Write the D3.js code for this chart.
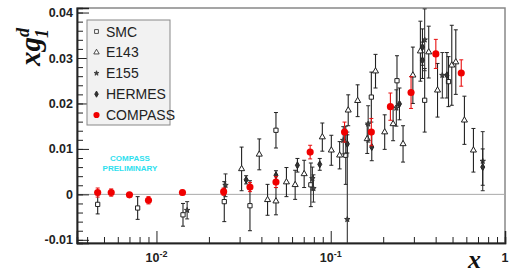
<!DOCTYPE html>
<html>
<head>
<meta charset="utf-8">
<script src="https://cdn.jsdelivr.net/npm/d3@7"></script>
<style>
  body { margin: 0; background: #fff; }
  svg { display: block; font-family: "Liberation Sans", Arial, sans-serif; }
</style>
</head>
<body>
<svg id="chart" width="509" height="273"></svg>
<script>
// data: x, value, stat error
var smcX   = [0.0046, 0.0078, 0.0142, 0.0245, 0.0344, 0.0485, 0.0769, 0.122, 0.171, 0.240, 0.346, 0.474]
var smcY   = [-0.0022, -0.0030, -0.0045, -0.0016, -0.0025, 0.0141, 0.0021, 0.0086, 0.0214, 0.0250, 0.0207, 0.0248]
var smcErr = [0.0021, 0.0025, 0.0025, 0.0044, 0.0055, 0.0039, 0.0048, 0.0064, 0.0055, 0.0055, 0.0070, 0.0055]

var e143X   = [0.0308, 0.0389, 0.0434, 0.0485, 0.0557, 0.0625, 0.0704, 0.0895, 0.1008, 0.1125, 0.126, 0.1427,
               0.162, 0.1807, 0.204, 0.228, 0.26, 0.296, 0.327, 0.365, 0.41, 0.495, 0.522, 0.585, 0.659]
var e143Y   = [0.0056, 0.0088, -0.0012, -0.0015, 0.0027, 0.0021, 0.0045, 0.0126, 0.0097, 0.0086, 0.0185, 0.0206,
               0.0122, 0.0271, 0.0137, 0.0155, 0.0111, 0.0262, 0.0315, 0.0313, 0.0229, 0.0284, 0.0291, 0.0163, 0.0097]
var e143Err = [0.0048, 0.0034, 0.0034, 0.0030, 0.0032, 0.0032, 0.0030, 0.0031, 0.0033, 0.0030, 0.0034, 0.0035,
               0.0032, 0.0037, 0.0038, 0.0037, 0.0040, 0.0062, 0.0066, 0.0057, 0.0059, 0.0088, 0.0071, 0.0053, 0.0048]

var e155X   = [0.0150, 0.0249, 0.0785, 0.0796, 0.118, 0.1245, 0.164, 0.238, 0.346, 0.437, 0.745]
var e155Y   = [-0.0035, 0.0020, 0.0035, 0.0013, 0.0119, -0.0055, 0.0155, 0.0190, 0.0340, 0.0262, 0.0073]
var e155Err = [0.0019, 0.0025, 0.0025, 0.0030, 0.0030, 0.0192, 0.0040, 0.0040, 0.0068, 0.0050, 0.0065]

var hermesX   = [0.0327, 0.0485, 0.0644, 0.0865, 0.1245, 0.172, 0.248, 0.336, 0.336, 0.464, 0.745]
var hermesY   = [0.0032, 0.0042, 0.0064, 0.0066, 0.0111, 0.0104, 0.0199, 0.0324, 0.0295, 0.0262, 0.0060]
var hermesErr = [0.0009, 0.0010, 0.0015, 0.0013, 0.0020, 0.0030, 0.0035, 0.0040, 0.0040, 0.0050, 0.0040]

var compassX   = [0.0046, 0.0055, 0.0070, 0.0090, 0.0141, 0.0243, 0.0344, 0.0485, 0.0762, 0.120, 0.171, 0.220, 0.289, 0.401, 0.561]
var compassY   = [0.0004, 0.0004, -0.0001, -0.0013, 0.0004, 0.0006, 0.0016, 0.0027, 0.0093, 0.0137, 0.0137, 0.0193, 0.0224, 0.0309, 0.0267]
var compassErr = [0.0010, 0.0008, 0.0005, 0.0008, 0.0005, 0.0008, 0.0010, 0.0012, 0.0015, 0.0022, 0.0030, 0.0030, 0.0035, 0.0032, 0.0029]

var yTicks = [-0.01, 0, 0.01, 0.02, 0.03, 0.04]
var yTickLabels = ["-0.01", "0", "0.01", "0.02", "0.03", "0.04"]
var xTicks = [0.01, 0.1, 1]
var xTickExp = ["-2", "-1", ""]
var legendNames = ["SMC", "E143", "E155", "HERMES", "COMPASS"]

// frame
var frame = {left: 77, right: 505, top: 8, bottom: 243}

var x = d3.scaleLog().domain([0.0035, 1]).range([frame.left, frame.right])
var y = d3.scaleLinear().domain([-0.0107, 0.041]).range([frame.bottom, frame.top])

var svg = d3.select("#chart")

svg.append("defs").append("clipPath").attr("id", "clip")
  .append("rect")
  .attr("x", frame.left).attr("y", frame.top)
  .attr("width", frame.right - frame.left).attr("height", frame.bottom - frame.top)

// frame box (top / right in gray)
svg.append("rect")
  .attr("x", frame.left).attr("y", frame.top)
  .attr("width", frame.right - frame.left).attr("height", frame.bottom - frame.top)
  .style("fill", "none").style("stroke", "#888").style("stroke-width", 1.5)

// zero line
svg.append("line")
  .attr("x1", frame.left).attr("x2", frame.right)
  .attr("y1", y(0)).attr("y2", y(0))
  .style("stroke", "#aaa").style("stroke-width", 1)

// y axis, ticks pointing inwards
var yMinor = d3.range(-0.01, 0.0401, 0.002)
var yAxis = d3.axisLeft(y).tickValues(yMinor).tickSize(-6).tickFormat("")
svg.append("g").attr("transform", "translate(" + frame.left + ",0)").call(yAxis)
var yAxisMajor = d3.axisLeft(y).tickValues(yTicks).tickSize(-12)
  .tickFormat(function(d, i) { return yTickLabels[i] }).tickPadding(5)
var gy = svg.append("g").attr("transform", "translate(" + frame.left + ",0)").call(yAxisMajor)
gy.selectAll("text").style("font-size", "12.5px").style("font-weight", "bold").style("fill", "#222")
  .attr("x", -4)

// x axis, log ticks pointing inwards
var xMinor = []
;[0.001, 0.01, 0.1].forEach(function(dec) {
  for (var k = 2; k <= 9; k++) {
    var v = dec * k
    if (v > x.domain()[0] && v < 1) xMinor.push(v)
  }
})
var xAxis = d3.axisBottom(x).tickValues(xMinor).tickSize(-6).tickFormat("")
svg.append("g").attr("transform", "translate(0," + frame.bottom + ")").call(xAxis)
var xAxisMajor = d3.axisBottom(x).tickValues(xTicks).tickSize(-12).tickFormat("")
svg.append("g").attr("transform", "translate(0," + frame.bottom + ")").call(xAxisMajor)
svg.selectAll(".domain").style("stroke", "#222").style("stroke-width", 1.5)
svg.selectAll(".tick line").style("stroke", "#222").style("stroke-width", 1)

var xLab = svg.append("g").selectAll("text")
  .data(xTicks).enter()
  .append("text")
  .attr("x", function(d) { return x(d) })
  .attr("y", 262)
  .attr("text-anchor", "middle")
  .style("font-size", "12.5px").style("font-weight", "bold").style("fill", "#222")
xLab.append("tspan").text(function(d) { return d === 1 ? "1" : "10" })
xLab.append("tspan")
  .attr("dy", -5).style("font-size", "9px")
  .text(function(d, i) { return xTickExp[i] })

// axis titles
var yt = svg.append("text")
  .attr("transform", "translate(40,66) rotate(-90)")
  .style("font-family", "'Liberation Serif', 'DejaVu Serif', serif")
  .style("font-style", "italic").style("font-weight", "bold")
  .style("font-size", "29px").style("fill", "#111")
yt.append("tspan").text("xg")
yt.append("tspan").attr("dy", -11).style("font-size", "18px").text("d")
yt.append("tspan").attr("dx", -10).attr("dy", 19).style("font-size", "18px").text("1")

svg.append("text")
  .attr("x", 468).attr("y", 268)
  .style("font-family", "'Liberation Serif', 'DejaVu Serif', serif")
  .style("font-style", "italic").style("font-weight", "bold")
  .style("font-size", "26px").style("fill", "#111")
  .text("x")

// preliminary label
svg.append("text").attr("x", 130).attr("y", 161).attr("text-anchor", "middle")
  .style("font-size", "8px").style("font-weight", "bold").style("fill", "#2ee0ee")
  .text("COMPASS")
svg.append("text").attr("x", 130).attr("y", 171).attr("text-anchor", "middle")
  .style("font-size", "8px").style("font-weight", "bold").style("fill", "#2ee0ee")
  .text("PRELIMINARY")

// data
var plot = svg.append("g").attr("clip-path", "url(#clip)")

function makeRows(xs, ys, es) {
  return xs.map(function(v, i) { return {x: v, y: ys[i], e: es[i]} })
}

var sets = [
  {name: "SMC", rows: makeRows(smcX, smcY, smcErr), color: "#222",
   sym: d3.symbolSquare, size: 18, fill: "#fff"},
  {name: "E143", rows: makeRows(e143X, e143Y, e143Err), color: "#222",
   sym: d3.symbolTriangle, size: 16, fill: "#fff"},
  {name: "E155", rows: makeRows(e155X, e155Y, e155Err), color: "#333",
   sym: d3.symbolStar, size: 9, fill: "#444"},
  {name: "HERMES", rows: makeRows(hermesX, hermesY, hermesErr), color: "#222",
   sym: d3.symbolDiamond, size: 14, fill: "#333"},
  {name: "COMPASS", rows: makeRows(compassX, compassY, compassErr), color: "#e81010",
   sym: d3.symbolCircle, size: 40, fill: "#f00000"}
]

sets.forEach(function(s) {
  var g = plot.append("g")
  var bars = g.selectAll(".bar").data(s.rows).enter().append("g")
  bars.append("line")
    .attr("x1", function(d) { return x(d.x) }).attr("x2", function(d) { return x(d.x) })
    .attr("y1", function(d) { return y(d.y + d.e) }).attr("y2", function(d) { return y(d.y - d.e) })
    .style("stroke", s.color).style("stroke-width", 1.1)
  bars.append("line")
    .attr("x1", function(d) { return x(d.x) - 2 }).attr("x2", function(d) { return x(d.x) + 2 })
    .attr("y1", function(d) { return y(d.y + d.e) }).attr("y2", function(d) { return y(d.y + d.e) })
    .style("stroke", s.color).style("stroke-width", 1)
  bars.append("line")
    .attr("x1", function(d) { return x(d.x) - 2 }).attr("x2", function(d) { return x(d.x) + 2 })
    .attr("y1", function(d) { return y(d.y - d.e) }).attr("y2", function(d) { return y(d.y - d.e) })
    .style("stroke", s.color).style("stroke-width", 1)
  g.selectAll(".pt").data(s.rows).enter().append("path")
    .attr("d", d3.symbol().type(s.sym).size(s.size))
    .attr("transform", function(d) { return "translate(" + x(d.x) + "," + y(d.y) + ")" })
    .style("fill", s.fill)
    .style("stroke", s.name === "COMPASS" ? "none" : s.color)
    .style("stroke-width", 1)
})

// legend
var legend = svg.append("g")
legend.append("rect")
  .attr("x", 87).attr("y", 20).attr("width", 83).attr("height", 105)
  .style("fill", "#f2f2f2").style("stroke", "#888").style("stroke-width", 1)
var ly = d3.scalePoint().domain(legendNames).range([31.5, 115])
var items = legend.selectAll(".item").data(sets).enter().append("g")
  .attr("transform", function(d) { return "translate(0," + ly(d.name) + ")" })
items.append("path")
  .attr("transform", "translate(96.5,0)")
  .attr("d", function(d) { return d3.symbol().type(d.sym).size(d.name === "COMPASS" ? 30 : d.size * 0.8)() })
  .style("fill", function(d) { return d.fill })
  .style("stroke", function(d) { return d.name === "COMPASS" ? "none" : d.color })
  .style("stroke-width", 0.8)
items.append("text")
  .attr("x", 106).attr("y", 5)
  .style("font-size", "14px").style("fill", "#222")
  .text(function(d) { return d.name })
</script>
</body>
</html>
